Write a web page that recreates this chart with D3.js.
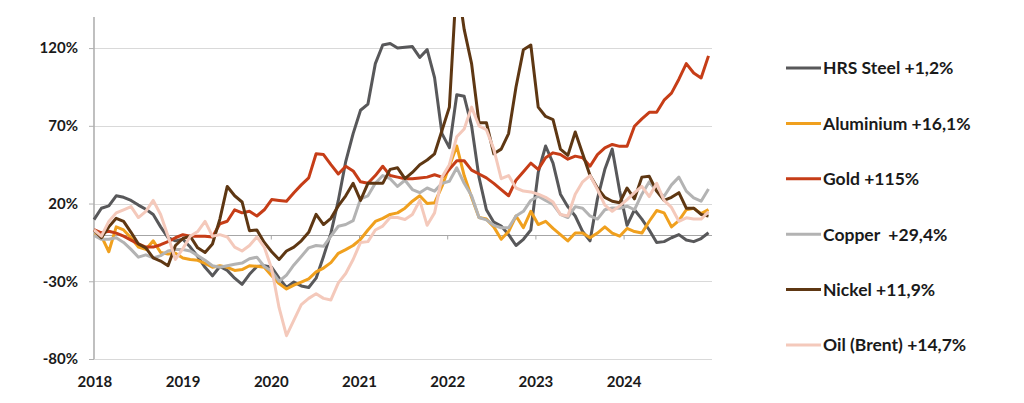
<!DOCTYPE html>
<html><head><meta charset="utf-8">
<script src="https://cdn.jsdelivr.net/npm/d3@7"></script>
<style>
html,body{margin:0;padding:0;background:#fff;}
svg{display:block;font-family:Lato,"Open Sans",sans-serif;font-weight:bold;}
</style></head>
<body><svg id="c" width="1024" height="403"></svg>
<script>
const yearLabels = ["2018","2019","2020","2021","2022","2023","2024"];
const yTicks = [-80,-30,20,70,120];

const hrsSteel = [9.7,17,18.5,25,24,22,19,16.3,13,5,-2,-4,
 -3,-8,-14,-21,-26.5,-20.5,-23,-28,-32,-25.5,-20.5,-20,
 -21,-28,-34,-30.5,-33,-34,-28,-14,1,22,47,65,
 80,84,110,122,123,120,120.5,121,114,119,101,65,
 56,90,89,70,37,16,8,5.5,0,-7,-3,3,
 40,57,46,26,18,12,2,-4,23,42,55,28,
 6,16,10,3,-5,-4.5,-2,0,-3.5,-4.5,-2.5,1.2];

const aluminium = [0,-1,-11,5,3,-2,-8,-9.5,-4,-11.5,-12.5,-12,
 -15,-16,-16.5,-18.5,-21,-20,-21,-23,-22.5,-20,-20.3,-21,
 -26.5,-31.5,-35,-32.5,-30.5,-28.4,-24,-21.5,-18,-12,-9.6,-7,
 -3,3,8.5,10.5,13,14,17,21.5,25,20,20.5,31,
 44,57,38,24,11,10,5,-3,2,12,4.5,15,
 6.5,8.6,4,0,-4,1,1,-2,1,5,1,-1,
 4,2,1,8.6,15.5,14,5,9,16,17,13.5,16.1];

const gold = [3.3,1.2,2.2,1,-1,-3.5,-6,-8,-8,-6.5,-4.5,-2,
 0,-1,-1,-1,-1.5,7,8.6,16,14,15,12,16,
 22.6,22,21.5,27,32,36.5,52,51.5,45,39,44,41,
 34,33,38,44,38,37,36,36,36.5,37,38.5,37,
 42,47.5,47.5,41.5,39,36.5,33,29,25,35,40.5,46,
 42,49.5,52.6,51.5,48.5,50.5,49.5,44,51.5,55.8,58,56.8,
 56.8,69.7,74.5,78.7,78.7,86.5,91,100,110,104,100.8,115];

const copper = [-0.5,-3,-3,-2,-5,-9.5,-14.5,-13,-15,-13.5,-10.5,-9.6,
 -9.6,-10.5,-13.5,-16.5,-20,-21,-20,-19,-18.3,-15.5,-14.5,-20.5,
 -23.5,-30,-26,-19.5,-14,-8.5,-7,-7.5,-1,5.4,6.5,9,
 23,25,33,38,36,31,35,29,27,30,28,33,
 34.3,43,33,25,11,9.5,6,4.4,4.4,12,15,22,
 24.7,22,19.5,13,11,18,17,12,10,16,17.2,17,
 18.3,16,26,34,28,24.7,32,37,28,23.6,21.5,29.4];

const nickel = [3,-2,5,10.5,8.5,1.5,-6,-8.5,-15,-17,-20,-7,
 -2.5,-1,-8.5,-11.5,-6,10,31,25,21,2.5,3,-5,
 -11,-16,-10.5,-8,-4,1.5,13,6.5,10.5,18.5,25,33,
 22,33,33,33,42,43,36,40,45,48,52,67,
 82,165,132,110,72,72,52,55,65,95,119,122,
 82,76,74,55,51,66,52,38,30,24,21.5,20.5,
 30,23,37,37.5,28,22,24,27,17,17,13,11.9];

const oil = [3,-1,8.5,14,16,18,11,15,22,13,-1,-16,
 -9,-1,2,8.5,-1,0,-1.5,-8,-10.5,-7,-1.5,-8,
 -22,-47,-65,-55,-45,-41,-38,-41,-42,-31,-25,-16,
 -5,-4.5,3,5.5,11,11,9.7,13,22,6,14,37,
 45,63,68,82,70,67.5,55,36,38,30,28,27.5,
 26,24,21,13,12,26,34,38,29,19,15,18.5,
 22.5,27,31,24.5,33,22,17.5,8.6,10.8,10,10,14.7];

const seriesNames = ["HRS Steel +1,2%","Aluminium +16,1%","Gold +115%","Copper\u00a0 +29,4%","Nickel +11,9%","Oil (Brent) +14,7%"];
const seriesColors = ["#58585a","#f0a01e","#c63d17","#b3b3b3","#5e3713","#f4c9bb"];
const seriesData = [hrsSteel, aluminium, gold, copper, nickel, oil];

(function () {
const svg = d3.select("#c");
const pL = 94, pR = 712, pT = 17, pB = 359;
const x = d3.scaleLinear().domain([0, hrsSteel.length - 1]).range([94, 708.5]);
const xYear = d3.scaleLinear().domain([0, 7]).range([94.4, 711.8]);
const y = d3.scaleLinear().domain([-80, 140]).range([pB, pT]);

svg.append("g").selectAll("line").data(yTicks).join("line")
  .attr("x1", pL).attr("x2", pR)
  .attr("y1", d => Math.round(y(d)) + 0.5).attr("y2", d => Math.round(y(d)) + 0.5)
  .attr("stroke", "#d9d9d9").attr("stroke-width", 1);

const zeroAxis = svg.append("g").attr("transform", `translate(0,${Math.round(y(0)) + 0.5})`)
  .call(d3.axisBottom(xYear).tickValues(d3.range(1, 7)).tickSize(4).tickFormat(""));
zeroAxis.select(".domain").attr("d", `M${pL},0H${pR}`).attr("stroke", "#a6a6a6");
zeroAxis.selectAll(".tick line").attr("stroke", "#a6a6a6");

const yAxis = svg.append("g").attr("transform", `translate(${pL},0)`)
  .call(d3.axisLeft(y).tickValues(yTicks).tickSize(5).tickPadding(11).tickFormat(d => d + "%"));
yAxis.select(".domain").attr("d", `M0,${pT}V${pB}`).attr("stroke", "#b0b0b0").attr("stroke-width", 1.6);
yAxis.selectAll(".tick line").attr("stroke", "#b0b0b0");
yAxis.selectAll("text").attr("font-family", "Lato").attr("font-weight", "bold").attr("font-size", 15).attr("fill", "#1a1a1a");

const xAxis = svg.append("g").attr("transform", `translate(0,${pB})`)
  .call(d3.axisBottom(xYear).tickValues(d3.range(0, 7)).tickSize(0).tickPadding(17).tickFormat(i => yearLabels[i]));
xAxis.select(".domain").remove();
xAxis.selectAll("text").attr("font-family", "Lato").attr("font-weight", "bold").attr("font-size", 15).attr("fill", "#1a1a1a");

svg.append("clipPath").attr("id", "plotclip").append("rect")
  .attr("x", pL - 3).attr("y", pT).attr("width", pR - pL + 6).attr("height", pB - pT);

const line = d3.line().x((d, i) => x(i)).y(d => y(d));
svg.append("g").attr("clip-path", "url(#plotclip)")
  .selectAll("path").data(seriesData).join("path")
  .attr("d", d => line(d))
  .attr("fill", "none")
  .attr("stroke", (d, i) => seriesColors[i])
  .attr("stroke-width", 3)
  .attr("stroke-linejoin", "round");

const legY = d3.scaleLinear().domain([0, 5]).range([68, 345]);
const leg = svg.append("g").selectAll("g").data(seriesNames).join("g")
  .attr("transform", (d, i) => `translate(0,${legY(i)})`);
leg.append("line").attr("x1", 786).attr("x2", 821).attr("y1", 0).attr("y2", 0)
  .attr("stroke", (d, i) => seriesColors[i]).attr("stroke-width", 3);
leg.append("text").attr("x", 823).attr("y", 0).attr("dy", "0.36em")
  .attr("font-size", 17.5).attr("fill", "#1a1a1a").text(d => d);
})();
</script>
</body></html>
